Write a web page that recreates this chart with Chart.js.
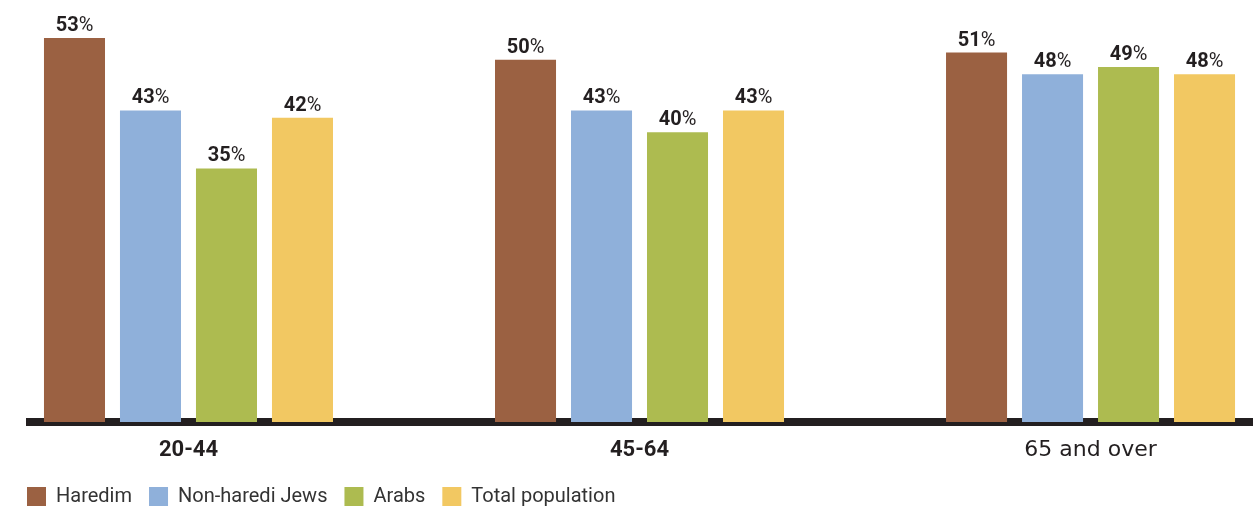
<!DOCTYPE html>
<html><head><meta charset="utf-8">
<script src="https://cdn.jsdelivr.net/npm/chart.js@4/dist/chart.umd.min.js"></script>
<style>html,body{margin:0;padding:0;background:#fff}#wrap{width:1259px;height:508px;position:relative}</style>
</head><body><div id="wrap"><canvas id="c"></canvas></div>
<script>
const categories = ["20-44", "45-64", "65 and over"];
const seriesNames = ["Haredim", "Non-haredi Jews", "Arabs", "Total population"];
const haredim = [53, 50, 51];
const nonHarediJews = [43, 43, 48];
const arabs = [35, 40, 49];
const totalPopulation = [42, 43, 48];
const seriesColors = ["#9B6142", "#8FB0DA", "#ADBB50", "#F2C862"];

const seriesValues = [haredim, nonHarediJews, arabs, totalPopulation];
const TEXT = "#231f20";

const valueLabels = {
  id: "valueLabels",
  afterDatasetsDraw(chart) {
    const ctx = chart.ctx;
    ctx.save();
    ctx.fillStyle = TEXT;
    ctx.textAlign = "left";
    ctx.textBaseline = "alphabetic";
    chart.data.datasets.forEach((ds, di) => {
      const meta = chart.getDatasetMeta(di);
      meta.data.forEach((el, i) => {
        const num = String(ds.data[i].y);
        ctx.font = "bold 20px Roboto";
        const w1 = ctx.measureText(num).width;
        ctx.font = "20px Roboto";
        const w2 = ctx.measureText("%").width;
        const x0 = el.x - (w1 + w2) / 2;
        const y = el.y - 7;
        ctx.font = "bold 20px Roboto";
        ctx.fillText(num, x0, y);
        ctx.font = "20px Roboto";
        ctx.fillText("%", x0 + w1, y);
      });
    });
    ctx.restore();
  }
};

new Chart(document.getElementById("c"), {
  type: "bar",
  data: {
    datasets: seriesNames.map((name, s) => ({
      label: name,
      data: categories.map((c, i) => ({ x: i, y: seriesValues[s][i] })),
      backgroundColor: seriesColors[s],
      borderWidth: 0,
      categoryPercentage: 0.674,
      barPercentage: 0.803
    }))
  },
  options: {
    responsive: true,
    maintainAspectRatio: false,
    animation: false,
    layout: { padding: { left: 10, right: 7, top: 0, bottom: -8.5 } },
    plugins: {
      legend: {
        position: "bottom",
        align: "start",
        labels: {
          boxWidth: 19,
          boxHeight: 19,
          padding: 17,
          color: "#333",
          font: { family: "Roboto", size: 20 }
        }
      },
      tooltip: { enabled: false }
    },
    scales: {
      x: {
        type: "linear",
        bounds: "data",
        min: -0.3514,
        max: 2.358,
        offset: false,
        z: 1,
        grid: { display: false, drawTicks: false },
        border: { display: true, color: "#231f20", width: 8 },
        afterBuildTicks: (s) => { s.ticks = categories.map((c, i) => ({ value: i })); },
        afterFit: (s) => { s.height = 47.5; },
        ticks: {
          autoSkip: false,
          maxRotation: 0,
          padding: 15.5,
          color: TEXT,
          callback: (v) => categories[v],
          font: (ctx) => ctx.index === 2
            ? { family: "DejaVu Sans", size: 22, weight: "normal" }
            : { family: "Roboto", size: 22, weight: "bold" }
        }
      },
      y: {
        min: 0,
        max: 58.25,
        display: true,
        grid: { display: false, drawTicks: false },
        border: { display: false },
        ticks: { display: false },
        afterFit: (s) => { s.width = 20; }
      }
    }
  },
  plugins: [valueLabels]
});
</script>
</body></html>
